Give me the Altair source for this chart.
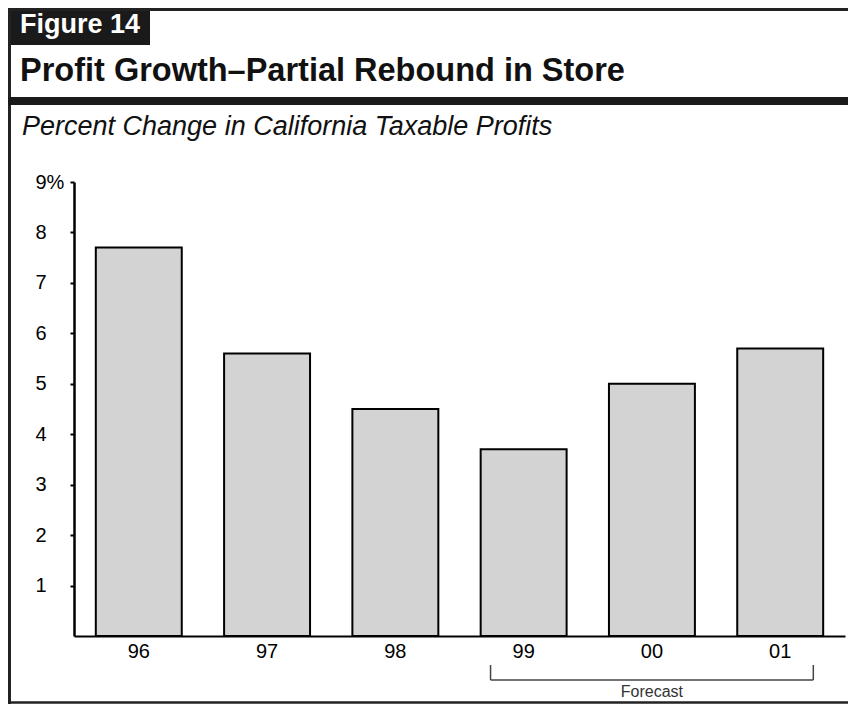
import altair as alt
import pandas as pd

# ---- data ----
years = ["96", "97", "98", "99", "00", "01"]
growth = [7.7, 5.6, 4.5, 3.7, 5.0, 5.7]
y_ticks = [1, 2, 3, 4, 5, 6, 7, 8, 9]
forecast_start = "99"
forecast_end = "01"
forecast_mid = "00"
figure_label = "Figure 14"
title_text = "Profit Growth\u2013Partial Rebound in Store"
subtitle_text = "Percent Change in California Taxable Profits"
forecast_label = "Forecast"

df = pd.DataFrame({"year": years, "growth": growth})

FONT = "Liberation Sans"
W, H = 771, 454
PAD_L, PAD_T = 66, 174
SVG_W, SVG_H = 840, 696
LEFT = -PAD_L
RIGHT = SVG_W - PAD_L
TOP = -PAD_T
BOTTOM = SVG_H - PAD_T

one = alt.Data(values=[{"k": 1}])
xscale = alt.Scale(domain=years, paddingInner=0.33, paddingOuter=0.17)

bars = alt.Chart(df).mark_bar(fill="#d3d3d3", stroke="black", strokeWidth=2).encode(
    x=alt.X("year:N", scale=xscale, title=None,
            axis=alt.Axis(labelAngle=0, ticks=False, domainColor="black", domainWidth=2,
                          labelFont=FONT, labelFontSize=20, labelColor="black",
                          labelPadding=5)),
    y=alt.Y("growth:Q", scale=alt.Scale(domain=[0, 9], nice=False), title=None,
            axis=alt.Axis(values=y_ticks, grid=False, domainColor="black", domainWidth=2.5,
                          tickColor="black", tickSize=4, tickWidth=2,
                          labelAlign="left", labelBaseline="middle", labelPadding=35,
                          labelFont=FONT, labelFontSize=20, labelColor="black",
                          labelExpr="datum.value == 9 ? '9%' : datum.label")),
)

# header decorations
box = alt.Chart(one).mark_rect(color="#1a1a1a").encode(
    x=alt.value(LEFT), x2=alt.value(76), y=alt.value(TOP), y2=alt.value(-137))
top_line = alt.Chart(one).mark_rule(color="#222222", strokeWidth=3).encode(
    x=alt.value(LEFT), x2=alt.value(RIGHT), y=alt.value(TOP + 1.5))
left_line = alt.Chart(one).mark_rule(color="#222222", strokeWidth=3).encode(
    x=alt.value(LEFT + 1.5), y=alt.value(TOP), y2=alt.value(BOTTOM))
bottom_line = alt.Chart(one).mark_rule(color="#222222", strokeWidth=2.5).encode(
    x=alt.value(LEFT), x2=alt.value(RIGHT), y=alt.value(BOTTOM - 1.5))
thick_line = alt.Chart(one).mark_rule(color="#1a1a1a", strokeWidth=8).encode(
    x=alt.value(LEFT), x2=alt.value(RIGHT), y=alt.value(-81))

fig_txt = alt.Chart(one).mark_text(text=figure_label, align="left", baseline="alphabetic",
                                   font=FONT, fontSize=27, fontWeight="bold", color="white").encode(
    x=alt.value(-54), y=alt.value(-149))
title_txt = alt.Chart(one).mark_text(text=title_text, align="left", baseline="alphabetic",
                                     font=FONT, fontSize=32.5, fontWeight="bold", color="#111111").encode(
    x=alt.value(-54), y=alt.value(-101))
sub_txt = alt.Chart(one).mark_text(text=subtitle_text, align="left", baseline="alphabetic",
                                   font=FONT, fontSize=27, fontStyle="italic", color="#111111").encode(
    x=alt.value(-52), y=alt.value(-47))

# forecast bracket
BR_TOP, BR_BOT = 483, 498
br_left = alt.Chart(alt.Data(values=[{"year": forecast_start}])).mark_rule(color="#444444", strokeWidth=1.5).encode(
    x=alt.X("year:N", scale=xscale, bandPosition=0.115, title=None),
    y=alt.value(BR_TOP), y2=alt.value(BR_BOT))
br_right = alt.Chart(alt.Data(values=[{"year": forecast_end}])).mark_rule(color="#444444", strokeWidth=1.5).encode(
    x=alt.X("year:N", scale=xscale, bandPosition=0.885, title=None),
    y=alt.value(BR_TOP), y2=alt.value(BR_BOT))
br_h = alt.Chart(alt.Data(values=[{"year": forecast_start, "end": forecast_end}])).mark_rule(color="#444444", strokeWidth=1.5).encode(
    x=alt.X("year:N", scale=xscale, bandPosition=0.115, title=None),
    x2=alt.X2("end:N", bandPosition=0.885),
    y=alt.value(BR_BOT))
fc_txt = alt.Chart(alt.Data(values=[{"year": forecast_mid}])).mark_text(
    text=forecast_label, align="center", baseline="alphabetic", font=FONT, fontSize=16, color="#333333").encode(
    x=alt.X("year:N", scale=xscale, bandPosition=0.5, title=None),
    y=alt.value(515))

chart = alt.layer(
    bars, box, top_line, left_line, bottom_line, thick_line,
    fig_txt, title_txt, sub_txt, br_left, br_right, br_h, fc_txt
).properties(
    width=W, height=H,
    autosize=alt.AutoSizeParams(type="none"),
    padding={"left": PAD_L, "top": PAD_T, "right": SVG_W - PAD_L - W, "bottom": SVG_H - PAD_T - H},
    background="white",
).configure_view(stroke=None)

chart.save("out.html", embed_options={"renderer": "svg", "actions": False})
